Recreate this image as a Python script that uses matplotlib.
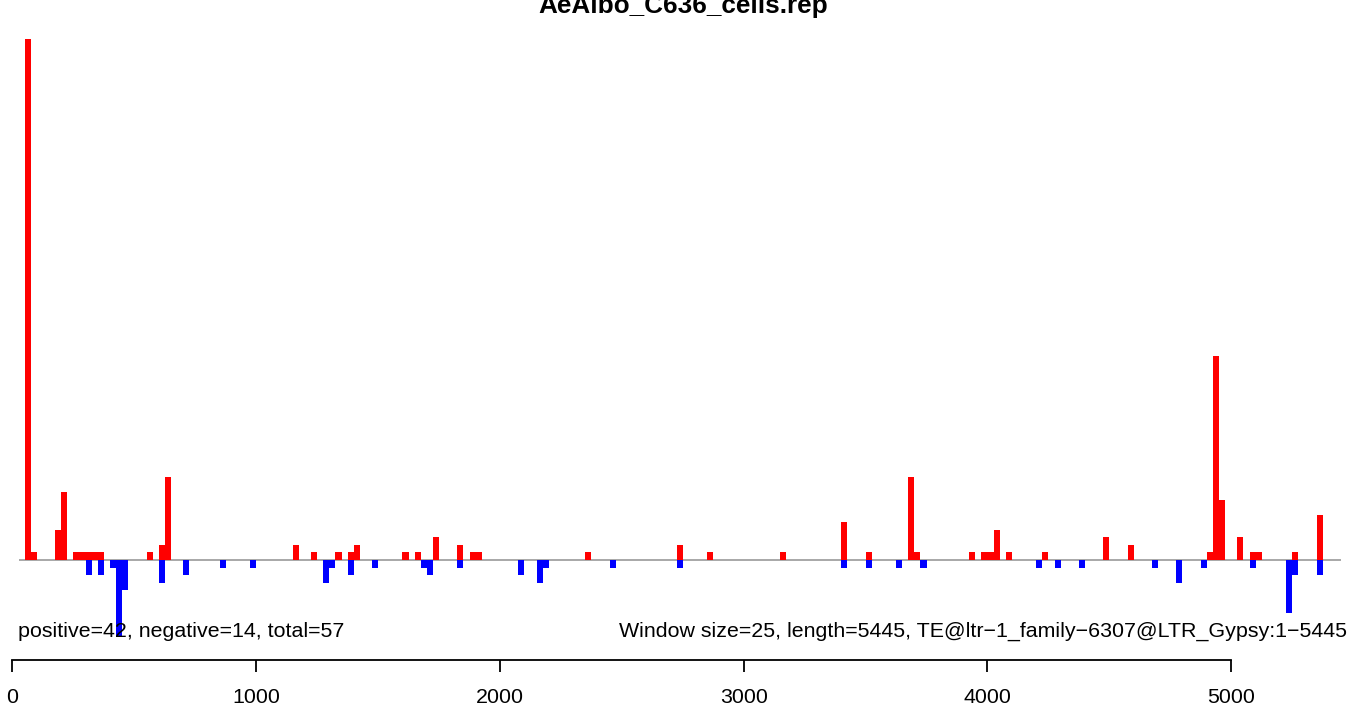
import matplotlib
matplotlib.use("Agg")
import matplotlib.pyplot as plt
import math

plt.rcParams['font.family'] = ['Liberation Sans', 'DejaVu Sans']

TITLE = "AeAlbo_C636_cells.rep"
WINDOW = 25
LENGTH = 5445
LEFT_TEXT = "positive=42, negative=14, total=57"
RIGHT_TEXT = "Window size=25, length=5445, TE@ltr\u22121_family\u22126307@LTR_Gypsy:1\u22125445"

# window start positions and counts (positive strand, red)
pos_start = [50, 75, 175, 200, 250, 275, 300, 325, 350, 550, 600, 625,
             1150, 1225, 1325, 1375, 1400, 1600, 1650, 1725, 1825, 1875, 1900,
             2350, 2725, 2850,
             3150, 3400, 3500, 3675, 3700,
             3925, 3975, 4000, 4025, 4075, 4225, 4475, 4575,
             4900, 4925, 4950, 5025, 5075, 5100, 5250, 5350]
pos_val = [69, 1, 4, 9, 1, 1, 1, 1, 1, 1, 2, 11,
           2, 1, 1, 1, 2, 1, 1, 3, 2, 1, 1,
           1, 2, 1,
           1, 5, 1, 11, 1,
           1, 1, 1, 4, 1, 1, 3, 2,
           1, 27, 8, 3, 1, 1, 1, 6]

# negative strand (blue)
neg_start = [300, 350, 400, 425, 450, 600, 700, 850,
             975, 1275, 1300, 1375, 1475, 1675, 1700, 1825,
             2075, 2150, 2175, 2450, 2725,
             3400, 3500, 3625, 3725,
             4200, 4275, 4375, 4675, 4775, 4875,
             5075, 5225, 5250, 5350]
neg_val = [2, 2, 1, 10, 4, 3, 2, 1,
           1, 3, 1, 2, 1, 1, 2, 1,
           2, 3, 1, 1, 1,
           1, 1, 1, 1,
           1, 1, 1, 1, 3, 1,
           1, 7, 2, 2]

xticks = [0, 1000, 2000, 3000, 4000, 5000]

W, H = 1365, 711
fig = plt.figure(figsize=(W / 100, H / 100), dpi=100)

# pixel calibration of the layout
x0_px, px_per_unit = 12.5, 0.24375
base_px, px_per_count = 560.0, 7.55
axis_px = 660.0

ax = fig.add_axes([0, (H - axis_px) / H, 1, axis_px / H])
ax.set_xlim(-x0_px / px_per_unit, (W - x0_px) / px_per_unit)
ax.set_ylim((base_px - axis_px) / px_per_count, base_px / px_per_count)

ax.bar(pos_start, pos_val, width=WINDOW, align='edge', color='#FF0000', linewidth=0)
ax.bar(neg_start, [-v for v in neg_val], width=WINDOW, align='edge', color='#0000FF', linewidth=0)
ax.hlines(0, WINDOW, math.ceil(LENGTH / WINDOW) * WINDOW, color='#999999', linewidth=1.2, zorder=0.5)

for s in ['top', 'left', 'right']:
    ax.spines[s].set_visible(False)
ax.spines['bottom'].set_bounds(xticks[0], xticks[-1])
ax.spines['bottom'].set_linewidth(1.3)
ax.set_yticks([])
ax.set_xticks(xticks)
ax.set_xticklabels([str(t) for t in xticks])
ax.tick_params(axis='x', direction='out', length=8.6, width=1.3, labelsize=15.4, pad=11.5)

fig.text(683 / W, 1 - 13 / H, TITLE, ha='center', va='baseline', fontsize=18.8, fontweight='bold')
fig.text(18 / W, 1 - 637 / H, LEFT_TEXT, ha='left', va='baseline', fontsize=15.4, zorder=5)
fig.text(1347 / W, 1 - 637 / H, RIGHT_TEXT, ha='right', va='baseline', fontsize=15.4, zorder=5)

fig.savefig("out.png", dpi=100)
